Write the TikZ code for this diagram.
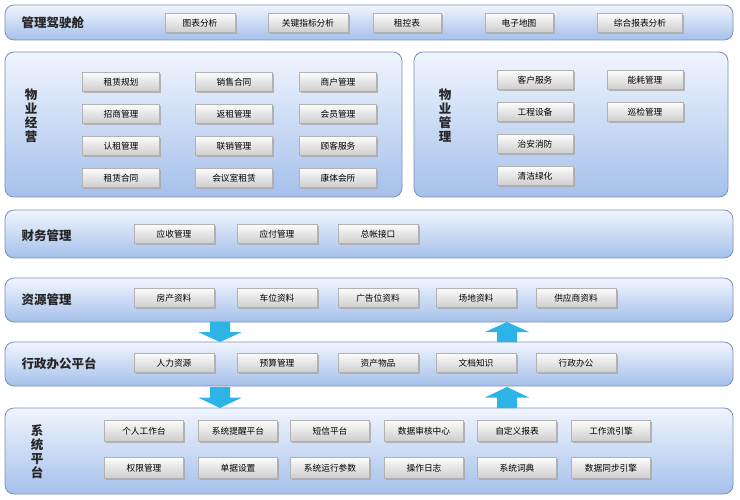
\documentclass[tikz,border=0pt]{standalone}
\usepackage{fontspec}
\setmainfont{Noto Sans CJK SC}
\usetikzlibrary{shadows}
\definecolor{panelTop}{RGB}{240,245,253}
\definecolor{panelBot}{RGB}{165,192,235}
\definecolor{panelLine}{RGB}{120,145,185}
\definecolor{btnTop}{RGB}{252,252,252}
\definecolor{btnBot}{RGB}{205,205,205}
\definecolor{flowBlue}{RGB}{45,180,230}
\tikzset{
   panel/.style = {draw=panelLine, rounded corners=9pt, top color=panelTop,
                   bottom color=panelBot, line width=0.8pt},
   btn/.style   = {draw=gray!60, top color=btnTop, bottom color=btnBot,
                   minimum height=19pt, inner sep=0pt, font=\fontsize{8.7}{9}\selectfont,
                   drop shadow={shadow xshift=1.5pt, shadow yshift=-1.5pt, fill=gray!70, opacity=0.8}},
   title/.style = {font=\fontsize{12.5}{14}\selectfont\bfseries, text=black!85},
   vtitle/.style = {title, align=center, font=\fontsize{12.5}{14}\selectfont\bfseries},
}
% flow arrow: x, top y, bottom y, direction (1 down, -1 up)
\newcommand{\flowarrow}[4]{%
   \pgfmathsetmacro{\ytip}{#4>0 ? #3 : #2}
   \pgfmathsetmacro{\ybase}{#4>0 ? #2 : #3}
   \pgfmathsetmacro{\ymid}{(#2+#3)/2}
   \fill[flowBlue] (#1-10,\ybase) -- (#1+10,\ybase) -- (#1+10,\ymid)
      -- (#1+22,\ymid) -- (#1,\ytip) -- (#1-22,\ymid) -- (#1-10,\ymid) -- cycle;
}
\begin{document}
\begin{tikzpicture}[x=1pt, y=-1pt]
   \useasboundingbox (0,0) rectangle (740,500);

   % panels
   \draw[panel] (5,5)     rectangle (733,40);
   \draw[panel] (5,52)    rectangle (402,197);
   \draw[panel] (414,52)  rectangle (728,197);
   \draw[panel] (5,210)   rectangle (733,258);
   \draw[panel] (5,278)   rectangle (733,322);
   \draw[panel] (5,342)   rectangle (733,386);
   \draw[panel] (5,408)   rectangle (733,494);

   % titles
   \node[title, anchor=west] (cockpit) at (18,23)  {管理驾驶舱};
   \node[vtitle] (operate) at (31,116) {物\\业\\经\\营};
   \node[vtitle] (manage)  at (445,116) {物\\业\\管\\理};
   \node[title, anchor=west] (finance) at (18,236) {财务管理};
   \node[title, anchor=west] (resource) at (18,300) {资源管理};
   \node[title, anchor=west] (office) at (18,364) {行政办公平台};
   \node[vtitle] (system) at (37,452) {系\\统\\平\\台};

   % 管理驾驶舱
   \foreach \x/\w/\t [count=\i] in {200/70/图表分析, 308/80/关键指标分析, 407/68/租控表,
                                    519/68/电子地图, 640/85/综合报表分析}
      \node[btn, minimum width=\w pt] (ck\i) at (\x,23) {\t};

   % 物业经营
   \foreach \t [count=\i] in {租赁规划, 招商管理, 认租管理, 租赁合同}
      \node[btn, minimum width=77pt] (opa\i) at (121,50+\i*32) {\t};
   \foreach \t [count=\i] in {销售合同, 返租管理, 联销管理, 会议室租赁}
      \node[btn, minimum width=77pt] (opb\i) at (234,50+\i*32) {\t};
   \foreach \t [count=\i] in {商户管理, 会员管理, 顾客服务, 康体会所}
      \node[btn, minimum width=77pt] (opc\i) at (338,50+\i*32) {\t};

   % 物业管理
   \foreach \t [count=\i] in {客户服务, 工程设备, 治安消防, 清洁绿化}
      \node[btn, minimum width=76pt] (pma\i) at (535,48+\i*32) {\t};
   \foreach \t [count=\i] in {能耗管理, 巡检管理}
      \node[btn, minimum width=76pt] (pmb\i) at (645,48+\i*32) {\t};

   % 财务管理
   \foreach \x/\t [count=\i] in {174/应收管理, 277/应付管理, 378/总帐接口}
      \node[btn, minimum width=80pt] (fin\i) at (\x,234) {\t};

   % 资源管理
   \foreach \x/\t [count=\i] in {174/房产资料, 277/车位资料, 378/广告位资料,
                                 476/场地资料, 576/供应商资料}
      \node[btn, minimum width=80pt] (res\i) at (\x,298) {\t};

   % 行政办公平台
   \foreach \x/\t [count=\i] in {174/人力资源, 277/预算管理, 378/资产物品,
                                 476/文档知识, 576/行政办公}
      \node[btn, minimum width=80pt] (off\i) at (\x,363) {\t};

   % 系统平台
   \foreach \x/\t [count=\i] in {144/个人工作台, 238/系统提醒平台, 330/短信平台,
                                 424/数据审核中心, 517/自定义报表, 611/工作流引擎}
      \node[btn, minimum width=79pt, minimum height=21pt] (sya\i) at (\x,431) {\t};
   \foreach \x/\t [count=\i] in {144/权限管理, 238/单据设置, 330/系统运行参数,
                                 424/操作日志, 517/系统词典, 611/数据同步引擎}
      \node[btn, minimum width=79pt, minimum height=21pt] (syb\i) at (\x,468) {\t};

   % flow arrows
   \flowarrow{220}{322}{342}{1}
   \flowarrow{507}{322}{342}{-1}
   \flowarrow{220}{387}{408}{1}
   \flowarrow{507}{387}{408}{-1}
\end{tikzpicture}
\end{document}
